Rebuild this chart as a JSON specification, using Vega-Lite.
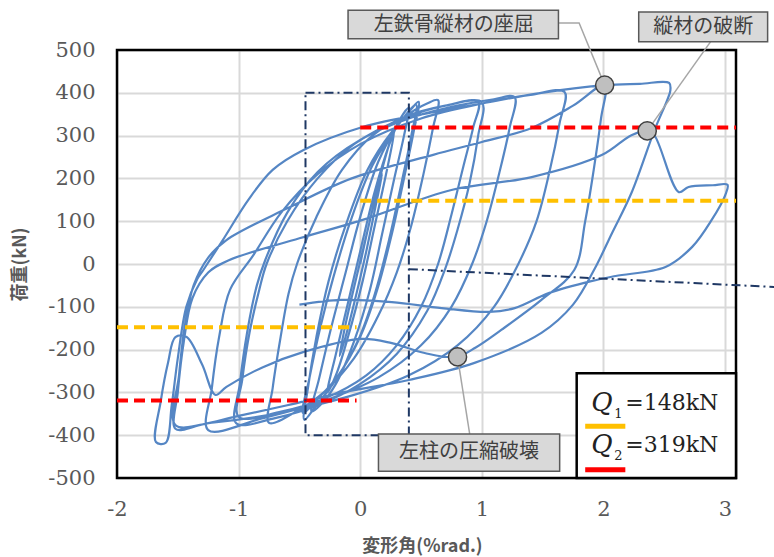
{
"$schema":"https://vega.github.io/schema/vega-lite/v6.json",
"width":619,"height":428,
"autosize":"none",
"padding":{"left":117,"top":50,"right":38,"bottom":79},
"background":"white",
"config":{"view":{"stroke":null}},
"datasets":{
"h":[
{"o":1,"x":0,"y":0},{"o":2,"x":0.07,"y":90},{"o":3,"x":0.14,"y":170},{"o":4,"x":0.18,"y":210},{"o":5,"x":0.13,"y":140},{"o":6,"x":0.05,"y":30},{"o":7,"x":-0.04,"y":-80},{"o":8,"x":-0.12,"y":-170},{"o":9,"x":-0.17,"y":-215},{"o":10,"x":-0.12,"y":-140},
{"o":11,"x":-0.03,"y":-30},{"o":12,"x":0.07,"y":90},{"o":13,"x":0.17,"y":210},{"o":14,"x":0.25,"y":290},{"o":15,"x":0.28,"y":310},{"o":16,"x":0.22,"y":220},{"o":17,"x":0.12,"y":90},{"o":18,"x":0.02,"y":-40},{"o":19,"x":-0.1,"y":-170},{"o":20,"x":-0.2,"y":-260},
{"o":21,"x":-0.27,"y":-300},{"o":22,"x":-0.2,"y":-210},{"o":23,"x":-0.1,"y":-90},{"o":24,"x":0.0,"y":30},{"o":25,"x":0.12,"y":170},{"o":26,"x":0.24,"y":280},{"o":27,"x":0.33,"y":340},{"o":28,"x":0.4,"y":365},{"o":29,"x":0.36,"y":300},{"o":30,"x":0.28,"y":200},
{"o":31,"x":0.18,"y":70},{"o":32,"x":0.08,"y":-60},{"o":33,"x":-0.05,"y":-180},{"o":34,"x":-0.2,"y":-280},{"o":35,"x":-0.33,"y":-330},{"o":36,"x":-0.4,"y":-345},{"o":37,"x":-0.34,"y":-270},{"o":38,"x":-0.24,"y":-150},{"o":39,"x":-0.12,"y":-20},{"o":40,"x":0.0,"y":110},
{"o":41,"x":0.15,"y":240},{"o":42,"x":0.3,"y":320},{"o":43,"x":0.42,"y":362},{"o":44,"x":0.48,"y":379},{"o":45,"x":0.44,"y":310},{"o":46,"x":0.36,"y":200},{"o":47,"x":0.26,"y":70},{"o":48,"x":0.14,"y":-60},{"o":49,"x":0.0,"y":-170},{"o":50,"x":-0.18,"y":-260},
{"o":51,"x":-0.35,"y":-315},{"o":52,"x":-0.47,"y":-348},{"o":53,"x":-0.42,"y":-270},{"o":54,"x":-0.33,"y":-150},{"o":55,"x":-0.22,"y":-30},{"o":56,"x":-0.08,"y":100},{"o":57,"x":0.1,"y":230},{"o":58,"x":0.3,"y":320},{"o":59,"x":0.46,"y":372},{"o":60,"x":0.42,"y":300},
{"o":61,"x":0.34,"y":190},{"o":62,"x":0.24,"y":60},{"o":63,"x":0.12,"y":-70},{"o":64,"x":-0.02,"y":-180},{"o":65,"x":-0.2,"y":-270},{"o":66,"x":-0.36,"y":-330},{"o":67,"x":-0.46,"y":-364},{"o":68,"x":-0.43,"y":-290},{"o":69,"x":-0.36,"y":-170},{"o":70,"x":-0.26,"y":-40},
{"o":71,"x":-0.12,"y":90},{"o":72,"x":0.06,"y":220},{"o":73,"x":0.25,"y":305},{"o":74,"x":0.4,"y":350},{"o":75,"x":0.55,"y":375},{"o":76,"x":0.64,"y":383},{"o":77,"x":0.6,"y":320},{"o":78,"x":0.52,"y":210},{"o":79,"x":0.42,"y":90},{"o":80,"x":0.3,"y":-20},
{"o":81,"x":0.15,"y":-120},{"o":82,"x":-0.05,"y":-220},{"o":83,"x":-0.3,"y":-300},{"o":84,"x":-0.5,"y":-340},{"o":85,"x":-0.75,"y":-371},{"o":86,"x":-0.72,"y":-290},{"o":87,"x":-0.66,"y":-180},{"o":88,"x":-0.59,"y":-70},{"o":89,"x":-0.52,"y":0},{"o":90,"x":-0.36,"y":110},
{"o":91,"x":-0.15,"y":220},{"o":92,"x":0.1,"y":300},{"o":93,"x":0.38,"y":345},{"o":94,"x":0.7,"y":370},{"o":95,"x":0.97,"y":379},{"o":96,"x":0.93,"y":320},{"o":97,"x":0.85,"y":230},{"o":98,"x":0.75,"y":115},{"o":99,"x":0.64,"y":0},{"o":100,"x":0.5,"y":-100},
{"o":101,"x":0.3,"y":-190},{"o":102,"x":0.05,"y":-260},{"o":103,"x":-0.3,"y":-315},{"o":104,"x":-0.65,"y":-345},{"o":105,"x":-1.0,"y":-357},{"o":106,"x":-0.97,"y":-270},{"o":107,"x":-0.91,"y":-160},{"o":108,"x":-0.83,"y":-60},{"o":109,"x":-0.77,"y":0},{"o":110,"x":-0.6,"y":100},
{"o":111,"x":-0.35,"y":200},{"o":112,"x":-0.05,"y":280},{"o":113,"x":0.35,"y":340},{"o":114,"x":0.7,"y":370},{"o":115,"x":1.0,"y":378},{"o":116,"x":0.97,"y":300},{"o":117,"x":0.9,"y":190},{"o":118,"x":0.8,"y":80},{"o":119,"x":0.7,"y":-10},{"o":120,"x":0.55,"y":-110},
{"o":121,"x":0.3,"y":-210},{"o":122,"x":0.0,"y":-280},{"o":123,"x":-0.35,"y":-330},{"o":124,"x":-0.7,"y":-360},{"o":125,"x":-1.02,"y":-372},{"o":126,"x":-0.99,"y":-280},{"o":127,"x":-0.93,"y":-160},{"o":128,"x":-0.85,"y":-50},{"o":129,"x":-0.78,"y":10},{"o":130,"x":-0.6,"y":120},
{"o":131,"x":-0.35,"y":215},{"o":132,"x":0.0,"y":290},{"o":133,"x":0.4,"y":340},{"o":134,"x":0.8,"y":370},{"o":135,"x":1.1,"y":385},{"o":136,"x":1.27,"y":390},{"o":137,"x":1.23,"y":320},{"o":138,"x":1.15,"y":220},{"o":139,"x":1.04,"y":100},{"o":140,"x":0.92,"y":0},
{"o":141,"x":0.75,"y":-100},{"o":142,"x":0.5,"y":-190},{"o":143,"x":0.15,"y":-265},{"o":144,"x":-0.3,"y":-320},{"o":145,"x":-0.8,"y":-360},{"o":146,"x":-1.25,"y":-388},{"o":147,"x":-1.22,"y":-290},{"o":148,"x":-1.16,"y":-170},{"o":149,"x":-1.07,"y":-60},{"o":150,"x":-0.88,"y":20},
{"o":151,"x":-0.65,"y":120},{"o":152,"x":-0.35,"y":210},{"o":153,"x":0.0,"y":280},{"o":154,"x":0.5,"y":340},{"o":155,"x":1.0,"y":375},{"o":156,"x":1.4,"y":395},{"o":157,"x":1.68,"y":402},{"o":158,"x":1.64,"y":330},{"o":159,"x":1.56,"y":220},{"o":160,"x":1.45,"y":100},
{"o":161,"x":1.3,"y":0},{"o":162,"x":1.1,"y":-100},{"o":163,"x":0.8,"y":-190},{"o":164,"x":0.4,"y":-260},{"o":165,"x":-0.1,"y":-310},{"o":166,"x":-0.7,"y":-350},{"o":167,"x":-1.2,"y":-370},{"o":168,"x":-1.52,"y":-376},{"o":169,"x":-1.49,"y":-260},{"o":170,"x":-1.44,"y":-140},
{"o":171,"x":-1.37,"y":-50},{"o":172,"x":-1.25,"y":15},{"o":173,"x":-1.1,"y":56},{"o":174,"x":-0.6,"y":130},{"o":175,"x":-0.07,"y":200},{"o":176,"x":0.6,"y":255},{"o":177,"x":1.0,"y":285},{"o":178,"x":1.41,"y":318},{"o":179,"x":1.75,"y":370},{"o":180,"x":2.01,"y":418},
{"o":181,"x":1.98,"y":340},{"o":182,"x":1.92,"y":220},{"o":183,"x":1.85,"y":100},{"o":184,"x":1.76,"y":-14},{"o":185,"x":1.49,"y":-84},{"o":186,"x":1.16,"y":-154},{"o":187,"x":0.95,"y":-195},{"o":188,"x":0.79,"y":-217},{"o":189,"x":0.53,"y":-208},{"o":190,"x":0.26,"y":-185},
{"o":191,"x":0.01,"y":-175},{"o":192,"x":-0.47,"y":-206},{"o":193,"x":-0.8,"y":-241},{"o":194,"x":-1.1,"y":-287},{"o":195,"x":-1.19,"y":-306},{"o":196,"x":-1.3,"y":-235},{"o":197,"x":-1.43,"y":-170},{"o":198,"x":-1.52,"y":-171},{"o":199,"x":-1.58,"y":-230},{"o":200,"x":-1.64,"y":-320},
{"o":201,"x":-1.68,"y":-416},{"o":202,"x":-1.6,"y":-418},{"o":203,"x":-1.55,"y":-330},{"o":204,"x":-1.5,"y":-220},{"o":205,"x":-1.43,"y":-100},{"o":206,"x":-1.34,"y":-35},{"o":207,"x":-1.29,"y":-14},{"o":208,"x":-1.13,"y":56},{"o":209,"x":-0.92,"y":150},{"o":210,"x":-0.72,"y":220},
{"o":211,"x":-0.47,"y":266},{"o":212,"x":0.02,"y":320},{"o":213,"x":0.6,"y":355},{"o":214,"x":1.0,"y":375},{"o":215,"x":1.49,"y":400},{"o":216,"x":2.01,"y":418},{"o":217,"x":2.3,"y":421},{"o":218,"x":2.54,"y":423},{"o":219,"x":2.55,"y":405},{"o":220,"x":2.52,"y":380},
{"o":221,"x":2.42,"y":313},{"o":222,"x":2.23,"y":166},{"o":223,"x":2.07,"y":72},{"o":224,"x":1.93,"y":-10},{"o":225,"x":1.75,"y":-95},{"o":226,"x":1.49,"y":-161},{"o":227,"x":0.94,"y":-231},{"o":228,"x":0.4,"y":-271},{"o":229,"x":-0.16,"y":-301},{"o":230,"x":-0.6,"y":-330},
{"o":231,"x":-1.0,"y":-355},{"o":232,"x":-1.3,"y":-375},{"o":233,"x":-1.52,"y":-385},{"o":234,"x":-1.5,"y":-300},{"o":235,"x":-1.45,"y":-180},{"o":236,"x":-1.38,"y":-80},{"o":237,"x":-1.25,"y":-20},{"o":238,"x":-1.08,"y":9},{"o":239,"x":-0.5,"y":60},{"o":240,"x":0.02,"y":103},
{"o":241,"x":0.75,"y":173},{"o":242,"x":1.41,"y":203},{"o":243,"x":1.99,"y":255},{"o":244,"x":2.23,"y":301},{"o":245,"x":2.36,"y":311},{"o":246,"x":2.42,"y":300},{"o":247,"x":2.62,"y":168},{"o":248,"x":2.7,"y":180},{"o":249,"x":2.9,"y":184},{"o":250,"x":3.02,"y":185},
{"o":251,"x":3.0,"y":160},{"o":252,"x":2.89,"y":103},{"o":253,"x":2.73,"y":40},{"o":254,"x":2.51,"y":-7},{"o":255,"x":2.1,"y":-28},{"o":256,"x":1.9,"y":-40},{"o":257,"x":1.55,"y":-68},{"o":258,"x":1.27,"y":-103},{"o":259,"x":1.06,"y":-112},{"o":260,"x":0.67,"y":-103},
{"o":261,"x":0.26,"y":-89},{"o":262,"x":-0.16,"y":-84},{"o":263,"x":-0.5,"y":-95}
],
"q":[
{"x":0,"x2":3.09,"y":319,"c":"Q2"},{"x":-2,"x2":-0.03,"y":-319,"c":"Q2"},
{"x":0,"x2":3.09,"y":148,"c":"Q1"},{"x":-2,"x2":-0.03,"y":-148,"c":"Q1"}
],
"dd":[
{"g":"box","o":1,"x":-0.45,"y":400},{"g":"box","o":2,"x":0.4,"y":400},{"g":"box","o":3,"x":0.4,"y":-400},{"g":"box","o":4,"x":-0.45,"y":-400},{"g":"box","o":5,"x":-0.45,"y":400},
{"g":"lead","o":1,"x":0.4,"y":-12},{"g":"lead","o":2,"x":3.42,"y":-54}
],
"ld":[
{"g":"a","o":1,"x":1.63,"y":563},{"g":"a","o":2,"x":1.8,"y":563},{"g":"a","o":3,"x":2.01,"y":418},
{"g":"b","o":1,"x":2.88,"y":519},{"g":"b","o":2,"x":2.36,"y":311},
{"g":"c","o":1,"x":0.9,"y":-397},{"g":"c","o":2,"x":0.8,"y":-217}
],
"bx":[
{"x1":-0.1,"x2":1.63,"y1":593,"y2":526,"cx":0.77,"cy":559,"t":"左鉄骨縦材の座屈"},
{"x1":2.29,"x2":3.35,"y1":589,"y2":519,"cx":2.82,"cy":554,"t":"縦材の破断"},
{"x1":0.15,"x2":1.64,"y1":-397,"y2":-484,"cx":0.895,"cy":-440,"t":"左柱の圧縮破壊"}
],
"pt":[{"x":2.01,"y":418},{"x":2.36,"y":311},{"x":0.8,"y":-217}],
"fr":[{"x1":-2,"x2":3.09,"y1":-500,"y2":500}],
"lg":[{"x1":1.78,"x2":3.09,"y1":-255,"y2":-500}],
"lgq":[{"x":1.9,"y":-325,"s":"1","ys":-350,"t":"=148kN"},{"x":1.9,"y":-423,"s":"2","ys":-448,"t":"=319kN"}],
"lgl":[{"x":1.85,"x2":2.18,"y":-379,"c":"Q1"},{"x":1.85,"x2":2.18,"y":-481,"c":"Q2"}]
},
"layer":[
{"data":{"name":"h"},
 "mark":{"type":"line","interpolate":"catmull-rom","color":"#5586c4","strokeWidth":2.2},
 "encoding":{
  "x":{"field":"x","type":"quantitative","scale":{"domain":[-2,3.09],"nice":false,"zero":false},
   "axis":{"values":[-2,-1,0,1,2,3],"grid":true,"gridColor":"#d9d9d9","gridWidth":2,"domain":false,"ticks":false,"labelFlush":false,"labelOverlap":false,
    "labelExpr":"datum.value < 0 ? '-' + abs(datum.value) : '' + datum.value",
    "labelFont":"DejaVu Serif","labelFontSize":21,"labelColor":"#595959","labelPadding":20,
    "title":"変形角(%rad.)","titleFont":"Noto Sans CJK JP","titleFontSize":18,"titleFontWeight":"bold","titleColor":"#595959","titleX":305,"titleY":68,"titleBaseline":"middle","titleAlign":"center"}},
  "y":{"field":"y","type":"quantitative","scale":{"domain":[-500,500],"nice":false,"zero":false},
   "axis":{"values":[-500,-400,-300,-200,-100,0,100,200,300,400,500],"grid":true,"gridColor":"#d9d9d9","gridWidth":2,"domain":false,"ticks":false,"labelFlush":false,"labelOverlap":false,
    "labelExpr":"datum.value < 0 ? '-' + abs(datum.value) : '' + datum.value",
    "labelFont":"DejaVu Serif","labelFontSize":21,"labelColor":"#595959","labelPadding":22,
    "title":"荷重(kN)","titleFont":"Noto Sans CJK JP","titleFontSize":18,"titleFontWeight":"bold","titleColor":"#595959","titleX":-97,"titleY":214,"titleAngle":270,"titleBaseline":"middle","titleAlign":"center"}},
  "order":{"field":"o","type":"quantitative"}}},
{"mark":{"type":"rule","color":"black","strokeWidth":2},"encoding":{"x":{"datum":0}}},
{"mark":{"type":"rule","color":"black","strokeWidth":2},"encoding":{"y":{"datum":0}}},
{"data":{"name":"fr"},
 "mark":{"type":"rect","filled":false,"stroke":"black","strokeWidth":2.5},
 "encoding":{"x":{"field":"x1","type":"quantitative"},"x2":{"field":"x2"},"y":{"field":"y1","type":"quantitative"},"y2":{"field":"y2"}}},
{"data":{"name":"q"},
 "mark":{"type":"rule","strokeWidth":4,"strokeDash":[11,6]},
 "encoding":{"x":{"field":"x","type":"quantitative"},"x2":{"field":"x2"},"y":{"field":"y","type":"quantitative"},
  "color":{"field":"c","type":"nominal","scale":{"domain":["Q1","Q2"],"range":["#ffc000","#ff0000"]},"legend":null}}},
{"data":{"name":"dd"},
 "mark":{"type":"line","color":"#1f3864","strokeWidth":2,"strokeDash":[9,4,2,4],"clip":false},
 "encoding":{"x":{"field":"x","type":"quantitative"},"y":{"field":"y","type":"quantitative"},"detail":{"field":"g"},"order":{"field":"o","type":"quantitative"}}},
{"data":{"name":"ld"},
 "mark":{"type":"line","color":"#a6a6a6","strokeWidth":1.5,"clip":false},
 "encoding":{"x":{"field":"x","type":"quantitative"},"y":{"field":"y","type":"quantitative"},"detail":{"field":"g"},"order":{"field":"o","type":"quantitative"}}},
{"data":{"name":"bx"},
 "mark":{"type":"rect","fill":"#d9d9d9","stroke":"#595959","strokeWidth":1.5,"clip":false},
 "encoding":{"x":{"field":"x1","type":"quantitative"},"x2":{"field":"x2"},"y":{"field":"y1","type":"quantitative"},"y2":{"field":"y2"}}},
{"data":{"name":"bx"},
 "mark":{"type":"text","font":"Noto Sans CJK JP","fontSize":20,"color":"#404040","align":"center","baseline":"middle","clip":false},
 "encoding":{"x":{"field":"cx","type":"quantitative"},"y":{"field":"cy","type":"quantitative"},"text":{"field":"t"}}},
{"data":{"name":"pt"},
 "mark":{"type":"point","filled":true,"fill":"#bfbfbf","stroke":"#404040","strokeWidth":1.5,"size":330,"opacity":1},
 "encoding":{"x":{"field":"x","type":"quantitative"},"y":{"field":"y","type":"quantitative"}}},
{"data":{"name":"lg"},
 "mark":{"type":"rect","fill":"white","stroke":"black","strokeWidth":2.5},
 "encoding":{"x":{"field":"x1","type":"quantitative"},"x2":{"field":"x2"},"y":{"field":"y1","type":"quantitative"},"y2":{"field":"y2"}}},
{"data":{"name":"lgl"},
 "mark":{"type":"rule","strokeWidth":5},
 "encoding":{"x":{"field":"x","type":"quantitative"},"x2":{"field":"x2"},"y":{"field":"y","type":"quantitative"},
  "color":{"field":"c","type":"nominal","legend":null}}},
{"data":{"name":"lgq"},
 "mark":{"type":"text","text":"Q","font":"DejaVu Serif","fontStyle":"italic","fontSize":26,"color":"#222222","align":"left","baseline":"middle"},
 "encoding":{"x":{"field":"x","type":"quantitative"},"y":{"field":"y","type":"quantitative"}}},
{"data":{"name":"lgq"},
 "mark":{"type":"text","font":"DejaVu Serif","fontSize":13,"color":"#222222","align":"left","baseline":"middle","dx":23},
 "encoding":{"x":{"field":"x","type":"quantitative"},"y":{"field":"ys","type":"quantitative"},"text":{"field":"s"}}},
{"data":{"name":"lgq"},
 "mark":{"type":"text","font":"DejaVu Serif","fontSize":22,"color":"#222222","align":"left","baseline":"middle","dx":34},
 "encoding":{"x":{"field":"x","type":"quantitative"},"y":{"field":"y","type":"quantitative"},"text":{"field":"t"}}}
]
}
